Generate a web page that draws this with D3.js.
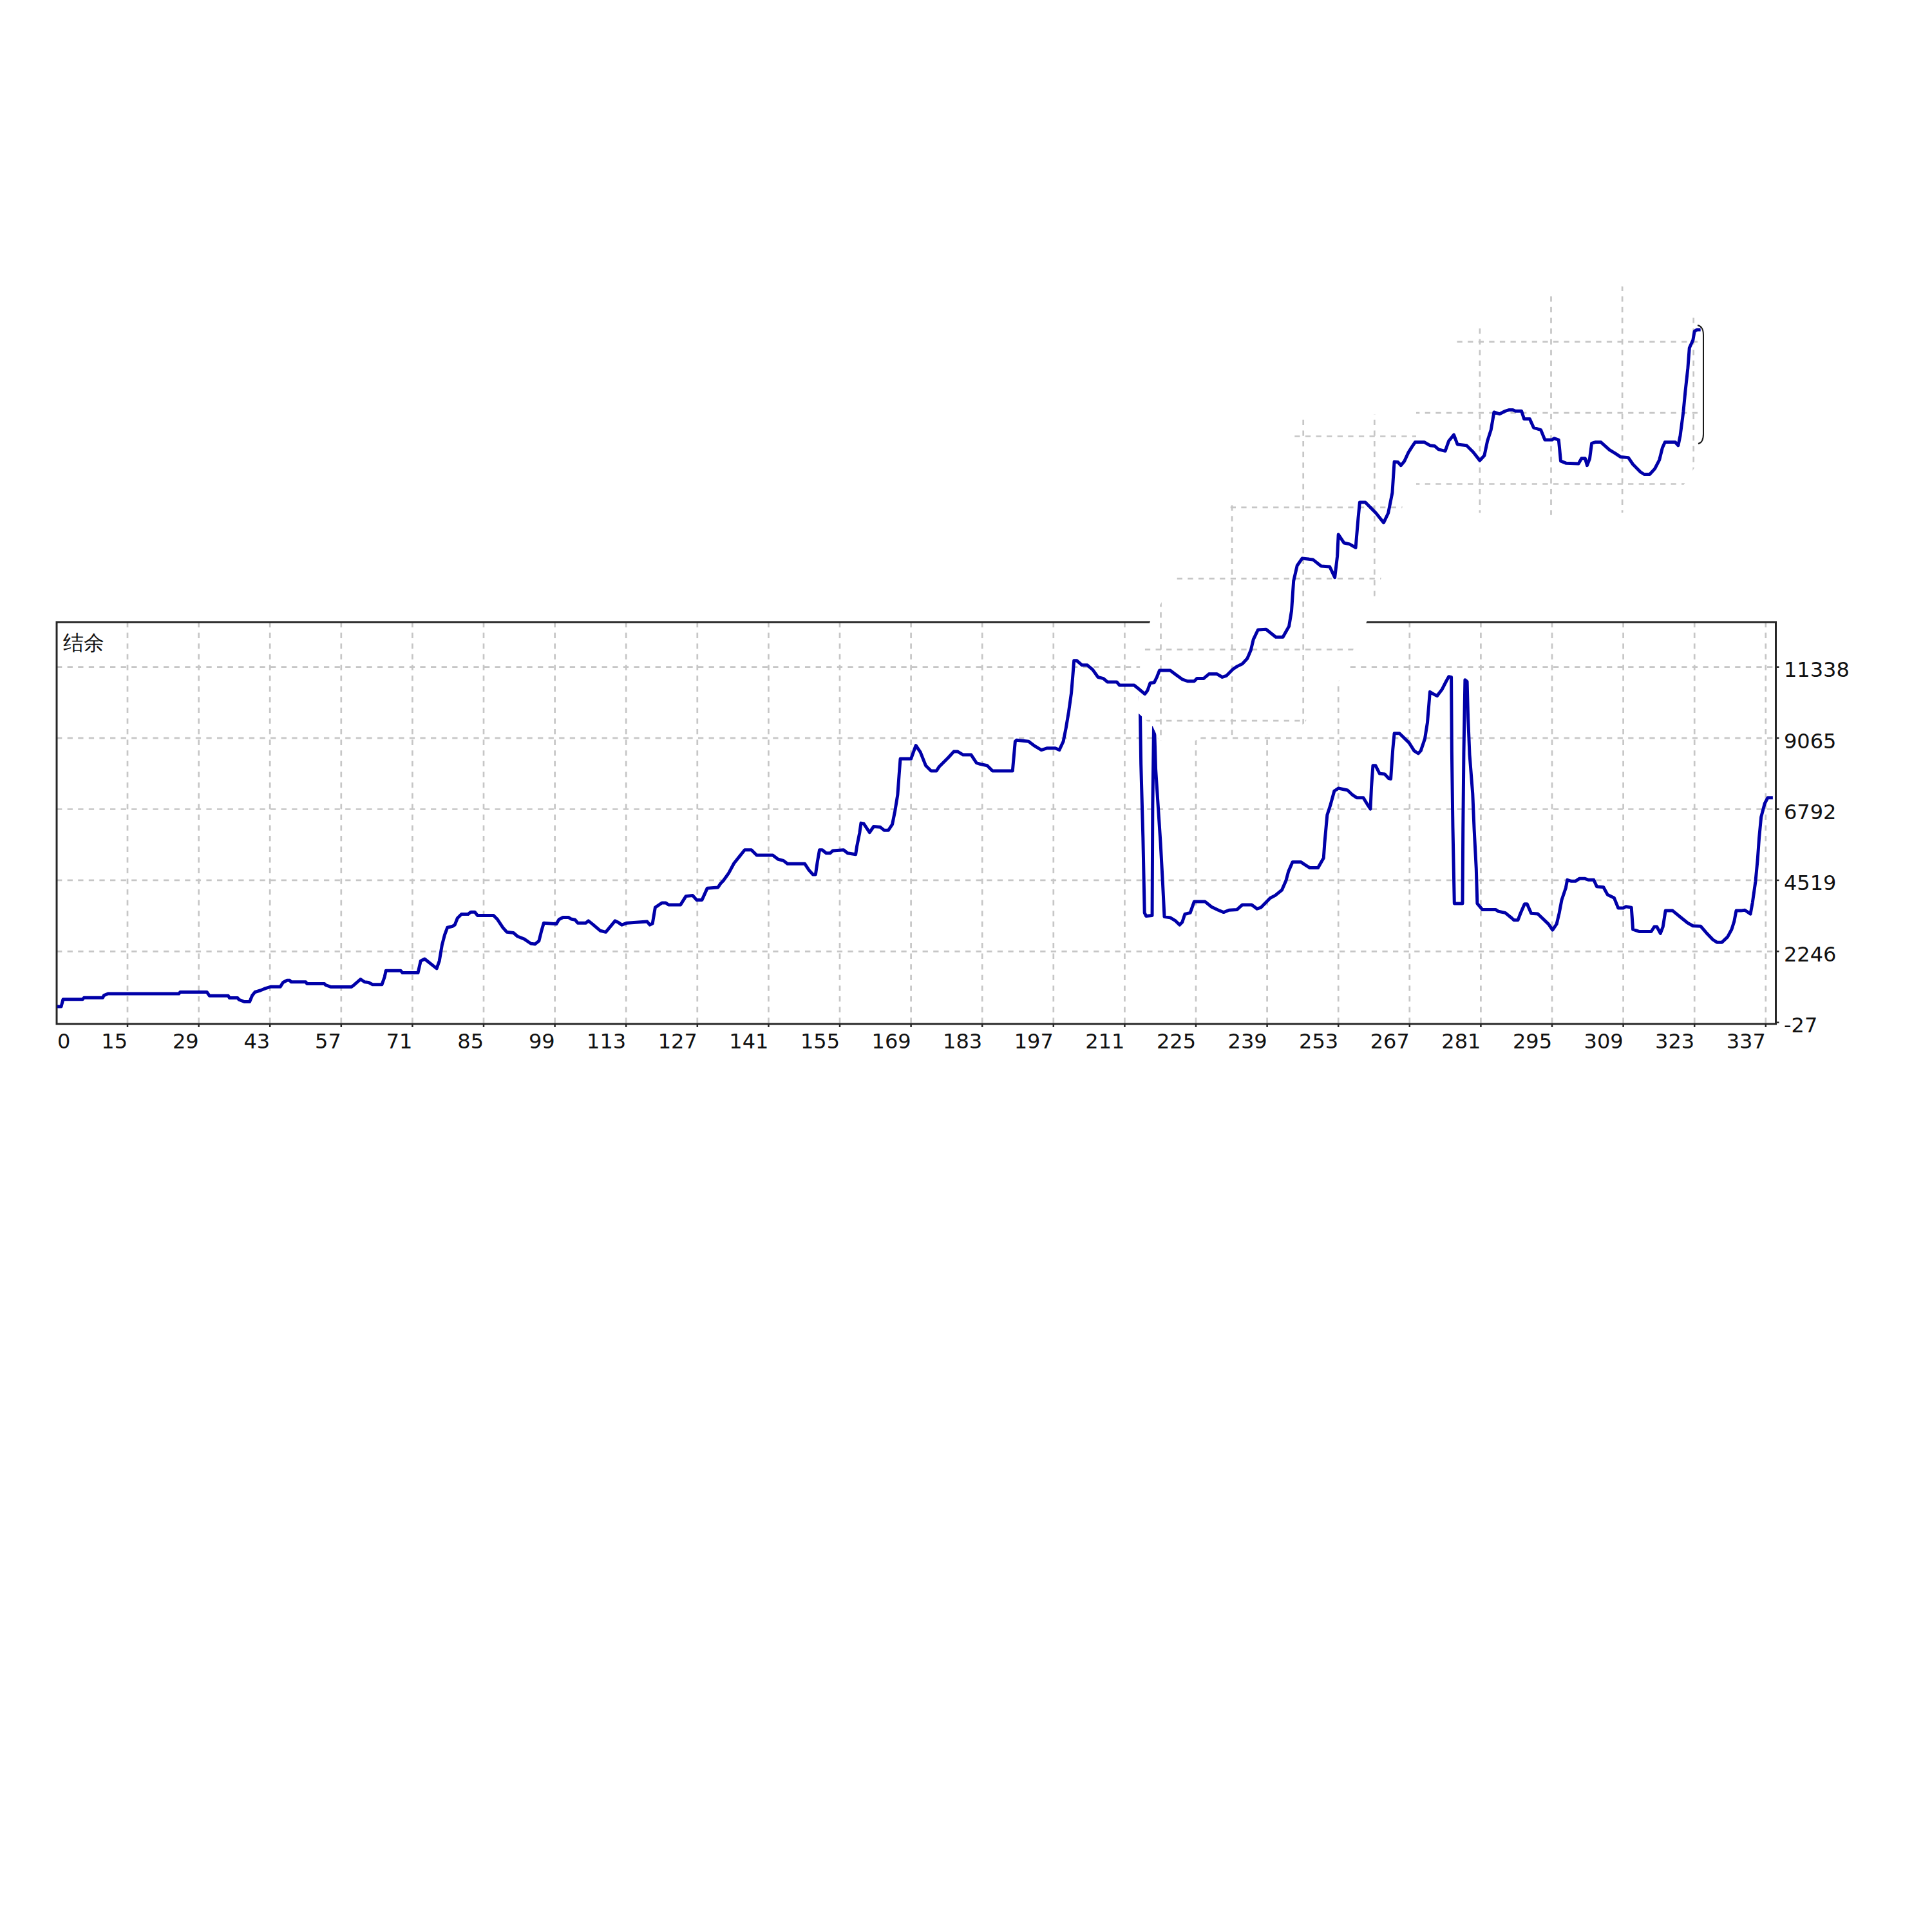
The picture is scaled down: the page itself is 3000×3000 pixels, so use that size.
<!DOCTYPE html>
<html>
<head>
<meta charset="utf-8">
<script src="https://cdn.jsdelivr.net/npm/d3@7"></script>
<style>
  body { margin: 0; background: #fff; }
  text { font-family: "DejaVu Sans", sans-serif; }
</style>
</head>
<body>
<svg id="chart" width="3000" height="3000"></svg>
<script>
// ---- data ----
const title = '结余';
const xTicks = [0, 15, 29, 43, 57, 71, 85, 99, 113, 127, 141, 155, 169, 183, 197, 211, 225, 239, 253, 267, 281, 295, 309, 323, 337];
const yTicks = [-27, 2246, 4519, 6792, 9065, 11338];

// balance curve (runs off the top of the frame after ~236)
const balance = [
  [1.19, 483], [1.97, 483], [2.34, 714], [6.18, 714], [6.44, 765], [10.12, 765], [10.38, 840], [11.17, 893],
  [25.08, 893], [25.35, 945], [30.6, 945], [31.12, 825], [34.8, 825], [35.06, 757], [36.64, 757], [36.9, 705],
  [37.95, 637], [39.0, 637], [39.53, 840], [40.05, 945], [41.1, 996], [42.15, 1065], [43.2, 1116], [45.04, 1116],
  [45.57, 1253], [46.36, 1321], [46.88, 1321], [47.14, 1270], [50.03, 1270], [50.29, 1210], [53.7, 1210],
  [53.97, 1167], [55.02, 1108], [58.96, 1108], [59.49, 1167], [60.8, 1356], [61.59, 1270], [62.37, 1253],
  [63.16, 1185], [65.0, 1185], [65.52, 1424], [65.79, 1630], [68.68, 1630], [69.05, 1561], [72.09, 1561],
  [72.62, 1938], [73.4, 2006], [75.77, 1698], [76.29, 1938], [76.82, 2452], [77.34, 2777], [77.87, 3008],
  [78.92, 3051], [79.33, 3094], [79.85, 3308], [80.64, 3436], [81.95, 3436], [82.48, 3505], [83.27, 3505],
  [83.79, 3394], [86.94, 3394], [87.73, 3265], [88.78, 3008], [89.57, 2863], [90.88, 2837], [91.67, 2726],
  [92.98, 2640], [94.3, 2495], [95.08, 2477], [95.87, 2580], [96.4, 2922], [96.82, 3154], [99.29, 3120],
  [99.81, 3265], [100.6, 3334], [101.65, 3334], [102.17, 3282], [102.96, 3257], [103.49, 3154], [105.06, 3154],
  [105.59, 3222], [106.38, 3120], [107.95, 2905], [109.0, 2863], [109.53, 2965], [110.84, 3222], [111.37, 3180],
  [112.15, 3094], [113.2, 3154], [117.14, 3197], [117.67, 3094], [118.19, 3137], [118.72, 3650], [120.03, 3796],
  [120.82, 3796], [121.34, 3736], [123.7, 3736], [124.76, 4010], [126.07, 4035], [126.86, 3890], [127.91, 3890],
  [128.96, 4267], [131.06, 4292], [131.59, 4421], [132.11, 4506], [133.16, 4746], [134.21, 5063], [135.26, 5277],
  [136.31, 5491], [137.63, 5491], [138.68, 5320], [141.83, 5320], [142.88, 5191], [143.93, 5148], [144.72, 5046],
  [148.13, 5046], [148.92, 4849], [149.71, 4703], [150.24, 4703], [150.6, 5106], [151.02, 5491], [151.55, 5491],
  [152.33, 5388], [153.12, 5388], [153.65, 5465], [155.75, 5491], [156.54, 5388], [158.12, 5345], [158.38, 5619],
  [158.91, 6047], [159.17, 6347], [159.7, 6330], [160.86, 6047], [161.65, 6236], [162.96, 6219], [163.75, 6116],
  [164.54, 6116], [165.32, 6304], [165.85, 6732], [166.37, 7246], [166.64, 7845], [166.9, 8401], [169.0, 8401],
  [169.95, 8830], [170.84, 8616], [171.89, 8188], [172.94, 8016], [173.99, 8016], [174.51, 8145], [176.35, 8444],
  [177.4, 8633], [178.19, 8633], [179.24, 8530], [180.82, 8530], [181.87, 8273], [182.66, 8231], [183.97, 8188],
  [185.02, 8016], [188.96, 8016], [189.48, 8958], [189.75, 9001], [192.11, 8958], [193.16, 8830], [194.63, 8684],
  [195.79, 8744], [197.36, 8744], [198.15, 8684], [198.94, 8958], [199.46, 9386], [199.99, 9900], [200.51, 10499],
  [200.78, 11013], [201.04, 11543], [201.57, 11543], [202.62, 11398], [203.66, 11398], [204.71, 11252],
  [205.76, 11013], [206.82, 10970], [207.6, 10859], [209.44, 10859], [209.97, 10756], [212.86, 10756],
  [213.65, 10653], [214.96, 10473], [215.48, 10585], [216.01, 10824], [216.8, 10841], [217.32, 11013],
  [217.84, 11227], [219.95, 11227], [221.0, 11098], [222.31, 10944], [223.36, 10884], [224.67, 10884],
  [225.2, 10970], [226.51, 10970], [227.56, 11115], [229.14, 11115], [230.19, 11013], [230.97, 11055],
  [232.29, 11270], [233.08, 11355], [234.13, 11441], [235.1, 11610], [235.8, 11877], [236.3, 12221],
  [237.2, 12526], [238.8, 12540], [240.7, 12295], [242.1, 12295], [243.3, 12639], [243.8, 13133], [244.2, 14087],
  [244.9, 14581], [245.9, 14811], [248.0, 14772], [249.6, 14566], [251.3, 14544], [252.3, 14200], [252.8, 14885],
  [253.0, 15573], [254.1, 15306], [255.2, 15266], [256.4, 15153], [256.9, 16104], [257.2, 16601], [258.3, 16601],
  [260.4, 16257], [261.9, 15952], [262.8, 16257], [263.6, 16905], [264.0, 17900], [264.7, 17889], [265.3, 17782],
  [266.0, 17924], [266.8, 18208], [267.5, 18385], [268.1, 18527], [269.9, 18527], [271.0, 18420], [271.9, 18406],
  [272.7, 18293], [274.0, 18243], [274.7, 18563], [275.7, 18760], [276.4, 18456], [278.2, 18420], [279.5, 18208],
  [280.8, 17939], [281.7, 18101], [282.3, 18563], [283.0, 18917], [283.6, 19485], [284.7, 19427], [285.8, 19520],
  [286.5, 19555], [287.3, 19555], [287.8, 19520], [289.0, 19520], [289.5, 19271], [290.6, 19271], [291.4, 18987],
  [292.8, 18917], [293.6, 18598], [295.0, 18598], [295.4, 18647], [296.3, 18598], [296.5, 18279], [296.7, 17924],
  [297.8, 17852], [300.2, 17838], [300.8, 18009], [301.5, 18009], [301.9, 17782], [302.4, 17994], [302.8, 18491],
  [303.5, 18527], [304.6, 18527], [306.3, 18279], [307.4, 18171], [308.5, 18052], [310.0, 18031], [310.9, 17817],
  [312.4, 17570], [313.1, 17498], [314.2, 17498], [315.2, 17675], [316.1, 17959], [316.7, 18349], [317.2, 18527],
  [319.2, 18527], [319.8, 18420], [320.2, 18740], [320.8, 19485], [321.2, 20158], [321.7, 20902], [322.0, 21540],
  [322.7, 21789], [323.0, 22071], [323.5, 22120], [324.2, 22120]
];

// second trace drawn inside the frame from ~214
const balanceLow = [
  [214.0, 10400], [214.2, 8231], [214.6, 5876], [214.9, 3479], [215.2, 3376], [216.4, 3394], [216.5, 6904],
  [216.75, 9900], [217.1, 8059], [217.6, 6818], [218.05, 5705], [218.45, 4506], [218.8, 3351], [219.95, 3325],
  [221.0, 3222], [221.78, 3094], [222.31, 3180], [222.83, 3436], [223.88, 3479], [224.67, 3839], [226.77, 3839],
  [228.08, 3667], [229.4, 3565], [230.45, 3496], [231.5, 3565], [233.08, 3582], [234.13, 3736], [235.97, 3736],
  [237.02, 3607], [237.8, 3650], [239.6, 3950], [240.6, 4035], [241.9, 4207], [242.7, 4506], [243.2, 4806],
  [244.0, 5106], [245.6, 5106], [246.4, 5020], [247.4, 4917], [249.0, 4917], [250.1, 5234], [250.3, 5705],
  [250.8, 6604], [251.4, 6904], [252.2, 7374], [253.0, 7460], [254.8, 7400], [255.8, 7246], [256.6, 7160],
  [257.9, 7160], [258.7, 6946], [259.3, 6801], [259.5, 7503], [259.8, 8188], [260.3, 8188], [261.1, 7931],
  [262.1, 7914], [262.9, 7777], [263.3, 7760], [263.7, 8701], [264.0, 9215], [265.0, 9215], [266.9, 8915],
  [267.9, 8658], [268.7, 8573], [269.2, 8658], [270.0, 9044], [270.5, 9557], [271.0, 10542], [271.9, 10456],
  [272.4, 10413], [273.4, 10627], [274.2, 10884], [274.7, 11030], [275.2, 11013], [275.3, 8616], [275.5, 6219],
  [275.8, 3778], [277.4, 3778], [277.5, 6176], [277.65, 8573], [277.9, 10927], [278.3, 10870], [278.5, 9700],
  [278.8, 8530], [279.4, 7289], [279.7, 6133], [280.1, 4891], [280.3, 3778], [281.3, 3582], [283.9, 3582],
  [284.5, 3522], [285.8, 3479], [287.1, 3308], [287.5, 3248], [288.3, 3248], [288.8, 3462], [289.6, 3762],
  [290.1, 3762], [290.9, 3462], [292.2, 3445], [294.3, 3119], [295.1, 2931], [295.9, 3119], [296.4, 3462],
  [296.9, 3890], [297.7, 4275], [298.0, 4532], [298.8, 4489], [299.6, 4489], [300.4, 4575], [301.4, 4575],
  [302.2, 4532], [303.2, 4532], [303.8, 4318], [305.1, 4301], [305.9, 4061], [307.2, 3958], [308.0, 3633],
  [309.0, 3633], [309.5, 3676], [310.6, 3650], [310.9, 2948], [312.2, 2880], [314.5, 2880], [315.1, 3034],
  [315.6, 3034], [316.3, 2820], [316.8, 3034], [317.3, 3547], [318.7, 3547], [320.3, 3334], [321.6, 3162],
  [322.7, 3060], [324.2, 3051], [325.3, 2845], [326.6, 2623], [327.4, 2537], [328.4, 2537], [329.5, 2708],
  [330.3, 2948], [330.8, 3205], [331.2, 3547], [332.1, 3547], [332.9, 3565], [334.0, 3445], [334.4, 3805],
  [335.0, 4489], [335.4, 5174], [335.7, 5859], [336.1, 6544], [336.8, 6972], [337.4, 7160], [338.4, 7160]
];

// ---- layout ----
const svg = d3.select('#chart');
const frame = { left: 88, right: 2757.5, top: 966, bottom: 1590 };
const lineColor = '#0000a8';
const gridColor = '#c6c6c6';

const xScale = d3.scaleLinear().domain([15, 337]).range([198, 2741.8]);
const yScale = d3.scaleLinear().domain([-27, 11338]).range([1587.7, 1035.7]);

// torn-off patches of the plot that sit over the top edge
const leftPatch = [[1766, 1106], [1772, 1005], [1787, 962], [1827, 898], [1910, 786], [2008, 672], [2022, 650],
  [2140, 643], [2199, 662], [2199, 692], [2177, 790], [2144, 900], [2122, 966], [2100, 1012], [2096, 1038],
  [2080, 1056], [2040, 1085], [2027, 1122], [2000, 1140], [1870, 1142], [1856, 1150], [1800, 1150], [1790, 1128]];
const rightPatch = [[2199, 762], [2199, 640], [2248, 540], [2290, 508], [2400, 458], [2515, 444], [2600, 458],
  [2640, 500], [2645, 560], [2645, 700], [2630, 728], [2612, 757], [2520, 796], [2400, 800], [2290, 796], [2205, 790]];

const defs = svg.append('defs');
defs.append('clipPath').attr('id', 'frameClip')
  .append('rect')
  .attr('x', frame.left).attr('y', frame.top)
  .attr('width', frame.right - frame.left).attr('height', frame.bottom - frame.top);
defs.append('clipPath').attr('id', 'leftClip')
  .append('polygon').attr('points', leftPatch.join(' '));
defs.append('clipPath').attr('id', 'rightClip')
  .append('polygon').attr('points', rightPatch.join(' '));
const unionClip = defs.append('clipPath').attr('id', 'lineClip');
unionClip.append('rect')
  .attr('x', frame.left).attr('y', frame.top)
  .attr('width', frame.right - frame.left).attr('height', frame.bottom - frame.top);
unionClip.append('polygon').attr('points', leftPatch.join(' '));
unionClip.append('polygon').attr('points', rightPatch.join(' '));

function drawGrid(g, xs, ys, x0, x1, y0, y1) {
  g.selectAll('line.vgrid')
    .data(xs).enter()
    .append('line')
    .attr('class', 'vgrid')
    .attr('x1', d => xScale(d)).attr('x2', d => xScale(d))
    .attr('y1', y0).attr('y2', y1);
  g.selectAll('line.hgrid')
    .data(ys).enter()
    .append('line')
    .attr('class', 'hgrid')
    .attr('x1', x0).attr('x2', x1)
    .attr('y1', d => yScale(d)).attr('y2', d => yScale(d));
  g.selectAll('line')
    .attr('stroke', gridColor)
    .attr('stroke-width', 2.7)
    .attr('stroke-dasharray', '8.3,8.3');
}

const line = d3.line()
  .x(d => xScale(d[0]))
  .y(d => yScale(d[1]));

// main plot area
const plot = svg.append('g').attr('clip-path', 'url(#frameClip)');
drawGrid(plot.append('g'), xTicks.slice(1), yTicks.slice(1), frame.left, frame.right, frame.top, frame.bottom);

plot.append('path')
  .datum(balanceLow)
  .attr('d', line)
  .attr('fill', 'none')
  .attr('stroke', lineColor)
  .attr('stroke-width', 5)
  .attr('stroke-linejoin', 'round');

// frame
svg.append('rect')
  .attr('x', frame.left).attr('y', frame.top)
  .attr('width', frame.right - frame.left).attr('height', frame.bottom - frame.top)
  .attr('fill', 'none')
  .attr('stroke', '#262626')
  .attr('stroke-width', 3);

// x axis ticks + labels
svg.append('g').selectAll('line')
  .data(xTicks.slice(1)).enter()
  .append('line')
  .attr('x1', d => xScale(d)).attr('x2', d => xScale(d))
  .attr('y1', frame.bottom).attr('y2', frame.bottom + 5)
  .attr('stroke', '#262626').attr('stroke-width', 2.5);
svg.append('g').selectAll('text')
  .data(xTicks).enter()
  .append('text')
  .attr('x', (d, i) => i === 0 ? frame.left + 1 : xScale(d))
  .attr('y', 1627.5)
  .attr('text-anchor', (d, i) => i === 0 ? 'start' : 'end')
  .attr('font-size', 32)
  .attr('fill', '#111')
  .text(d => d);

// y axis ticks + labels (right side)
svg.append('g').selectAll('line')
  .data(yTicks).enter()
  .append('line')
  .attr('x1', frame.right).attr('x2', frame.right + 5)
  .attr('y1', d => yScale(d)).attr('y2', d => yScale(d))
  .attr('stroke', '#262626').attr('stroke-width', 2.5);
svg.append('g').selectAll('text')
  .data(yTicks).enter()
  .append('text')
  .attr('x', 2770)
  .attr('y', d => yScale(d) + 15.5)
  .attr('font-size', 32)
  .attr('fill', '#111')
  .text(d => d);

svg.append('text')
  .attr('x', 98).attr('y', 1009)
  .attr('font-family', '"Noto Sans CJK SC", sans-serif')
  .attr('font-size', 32)
  .attr('fill', '#111')
  .text(title);

// patches: white ground, their own shifted grids
const yStep = yTicks[1] - yTicks[0];
const patchRows = d3.range(yTicks[0], 24000, yStep);
[
  { id: 'leftClip', pts: leftPatch, dx: -54.5, dy: -27 },
  { id: 'rightClip', pts: rightPatch, dx: -1.5, dy: 47 }
].forEach(p => {
  svg.append('polygon')
    .attr('points', p.pts.join(' '))
    .attr('fill', '#fff');
  const g = svg.append('g').attr('clip-path', `url(#${p.id})`)
    .append('g').attr('transform', `translate(${p.dx},${p.dy})`);
  drawGrid(g, xTicks.slice(1), patchRows, 1600, 2800, 380, 1220);
});

// balance curve on top
svg.append('g').attr('clip-path', 'url(#lineClip)')
  .append('path')
  .datum(balance)
  .attr('d', line)
  .attr('fill', 'none')
  .attr('stroke', lineColor)
  .attr('stroke-width', 5)
  .attr('stroke-linejoin', 'round');

// thin dark edge at the right of the upper patch
svg.append('path')
  .attr('d', 'M2636,505 Q2645,507 2645,520 L2645,674 Q2645,687 2637,689')
  .attr('fill', 'none')
  .attr('stroke', '#1a1a1a')
  .attr('stroke-width', 2);
</script>
</body>
</html>
